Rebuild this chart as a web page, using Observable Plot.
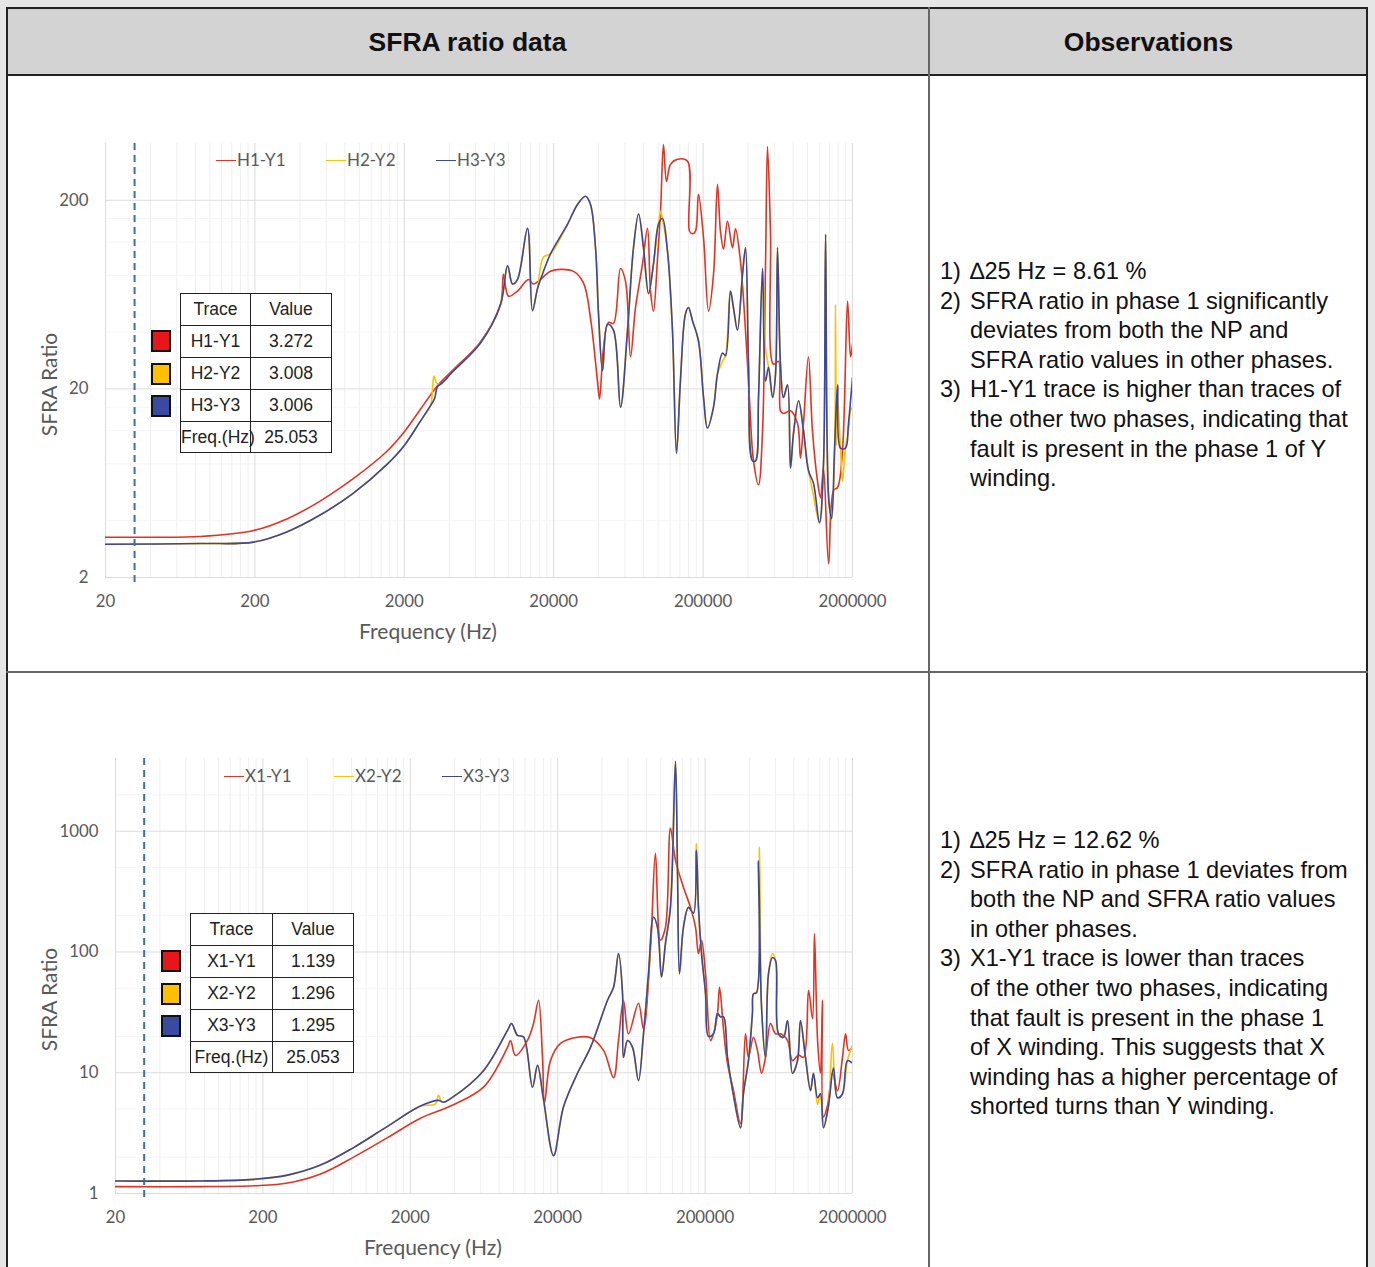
<!DOCTYPE html>
<html>
<head>
<meta charset="utf-8">
<script src="https://cdn.jsdelivr.net/npm/d3@7"></script>
<script src="https://cdn.jsdelivr.net/npm/@observablehq/plot@0.6"></script>
<style>
  html, body { margin: 0; padding: 0; }
  body { width: 1375px; height: 1267px; background: #e6e6e6; position: relative; overflow: hidden; font-family: "Liberation Sans", Arial, sans-serif; }
  .abs { position: absolute; }
  .htxt { font-weight: bold; font-size: 26.5px; color: #111; text-align: center; }
  .obs { font-size: 23.6px; line-height: 29.6px; color: #111; white-space: nowrap; }
  .obs .it { position: relative; padding-left: 30px; }
  .obs .num { position: absolute; left: 0; top: 0; }
  .legend { font-family: Lato, "Open Sans", sans-serif; font-size: 17px; color: #595959; white-space: nowrap; }
  .legend .ln { display: inline-block; width: 20px; height: 0; border-top: 1.5px solid; vertical-align: middle; margin-right: 1px; position: relative; top: -1px; }
  .axt { font-family: Lato, "Open Sans", sans-serif; font-size: 21px; color: #595959; white-space: nowrap; }
  table.inset { border-collapse: collapse; table-layout: fixed; font-family: "Liberation Sans", Arial, sans-serif; font-size: 17.5px; color: #222; background: #fff; }
  table.inset td { border: 1.5px solid #222; text-align: center; padding: 0; height: 30.9px; overflow: visible; white-space: nowrap; }
  .sw { width: 16px; height: 18px; border: 2px solid #111; }
</style>
</head>
<body>
<div id="root"></div>
<script>
// ---------------- DATA ----------------
const freqTicks = [20, 200, 2000, 20000, 200000, 2000000];
const ratioTicksTop = [2, 20, 200];
const ratioTicksBottom = [1, 10, 100, 1000];
const markerFreq = 31.3;

const seriesNamesTop = ["H1-Y1", "H2-Y2", "H3-Y3"];
const seriesNamesBottom = ["X1-Y1", "X2-Y2", "X3-Y3"];
const seriesColors = ["#e8301f", "#ffc000", "#3d4797"];
const swatchColors = ["#e8161b", "#ffc000", "#3a4aa0"];

const insetTop = { values: ["3.272", "3.008", "3.006"], freq: "25.053" };
const insetBottom = { values: ["1.139", "1.296", "1.295"], freq: "25.053" };

// [frequency Hz, SFRA ratio]
const h1y1 = [[20,3.27],[40,3.27],[86,3.3],[196,3.55],[330,4.1],[550,5.1],[914,6.7],[1544,9.4],[1976,11.7],[2565,15.6],[3336,20.8],[4265,25.3],[6472,35.5],[8812,56],[9230,81],[9960,62],[11440,66],[13560,76],[14650,72],[19040,84],[22190,86],[27160,84],[31640,73],[35260,47.5],[39260,22],[40540,17.7],[43100,33],[46560,45],[50240,44.5],[56000,87],[60500,74.5],[65340,29.6],[70500,53.7],[78560,91.7],[84900,142],[88940,66],[93100,51.7],[99100,98.6],[103800,175],[108600,395],[113800,252],[121000,310],[134900,330],[157400,322],[162200,137],[169800,133],[177800,137],[186200,215],[201400,126],[217400,51.7],[234800,81],[249600,243],[261300,137],[274000,110],[291200,155],[314600,112],[329600,141],[355700,95],[384600,40.6],[409200,17.3],[434800,8.3],[469800,6.2],[500000,12],[523600,91.7],[539600,385],[565000,137],[591600,27],[639800,28],[659000,15.3],[690000,14.8],[769000,15.3],[857000,13.1],[897000,8.6],[939800,13.1],[1014000,29.6],[1079000,12],[1166000,6.5],[1222000,5.3],[1279000,7.6],[1384000,2.37],[1494000,5.8],[1589000,6.0],[1714000,9.4],[1854000,58.5],[1940000,29.6],[2000000,34.6]];

const h2y2 = [[20,3.0],[86,3.03],[196,3.08],[330,3.5],[550,4.3],[914,5.6],[1544,8.0],[1976,9.9],[2565,13.5],[2994,16.3],[3090,20],[3160,23.4],[3290,21.5],[3500,21.2],[3800,22.5],[4074,24],[6472,35],[8812,56],[9820,90],[10600,72],[11440,76],[13360,142],[14420,52],[15580,68],[17100,100],[19040,104],[24720,149],[28860,190],[32640,210],[35260,190],[38100,112],[39900,50],[42460,25],[45820,44],[50240,41],[56000,16],[62400,41],[68400,112],[73960,169],[79800,112],[86300,64],[93100,92],[100500,149],[103800,175],[106900,160],[115600,107],[124700,41],[132700,9.1],[141000,22],[152400,50],[159600,54],[169800,46],[186200,36],[201400,18],[213800,12.4],[234800,16],[249600,24],[269800,28],[282600,30],[304800,66],[319200,54],[339600,41],[367200,81],[384600,112],[402800,27],[428600,8.3],[448800,8.3],[469800,18],[500000,87],[523600,33],[548200,26],[583400,18],[611000,24],[629600,112],[659000,27],[690000,18],[734600,21],[769000,7.6],[805400,11.6],[871000,17.3],[939800,12],[1014000,7.4],[1079000,5.8],[1202000,3.9],[1279000,8.0],[1321000,132],[1384000,5.3],[1449000,4.1],[1520000,9],[1538000,56],[1560000,10],[1589000,18],[1663000,9.7],[1714000,6.5],[1795000,9.7],[1879000,12],[1940000,15.3],[2000000,16]];

const h3y3 = [[20,3.0],[86,3.03],[196,3.08],[330,3.5],[550,4.3],[914,5.6],[1544,8.0],[1976,9.9],[2565,13.5],[2994,16.3],[3184,17.7],[3330,20.5],[3500,21.2],[3800,22.5],[4074,24],[6472,35],[8812,56],[9820,90],[10600,72],[11440,76],[13360,142],[14420,52],[15580,68],[17100,84],[19040,104],[24720,149],[28860,190],[32640,210],[35260,190],[38100,112],[39900,50],[42460,25],[45820,44],[50240,41],[56000,16],[62400,41],[68400,112],[73960,169],[79800,112],[86300,64],[93100,92],[100500,149],[106900,160],[115600,107],[124700,41],[132700,9.1],[141000,22],[152400,50],[159600,54],[169800,46],[186200,36],[201400,18],[213800,12.4],[234800,16],[249600,24],[269800,31],[282600,30],[304800,66],[319200,54],[339600,41],[367200,81],[384600,112],[402800,27],[428600,8.3],[448800,8.3],[469800,18],[500000,87],[523600,22],[548200,26],[583400,18],[611000,24],[629600,112],[659000,27],[690000,18],[734600,21],[769000,7.6],[805400,11.6],[871000,17.3],[939800,12],[1014000,7.4],[1097000,6.3],[1202000,3.9],[1279000,8.0],[1321000,132],[1384000,5.3],[1449000,4.1],[1517000,9.7],[1589000,21],[1663000,9.7],[1795000,9.7],[1879000,13.1],[2000000,23]];

const x1y1 = [[20,1.14],[75,1.14],[173,1.16],[294,1.22],[492,1.45],[824,2.0],[1400,2.9],[2345,4.2],[3750,5.3],[6276,7.6],[9128,16.2],[9572,18.5],[10340,13.9],[12470,18.5],[13710,25.6],[14820,39.8],[15770,13.4],[16290,5.6],[17870,12.6],[20900,17.5],[27240,19.7],[33380,19.5],[40920,15.3],[47860,9.1],[51700,18.5],[55880,39.8],[60440,21],[70640,37.6],[76400,23],[85320,109],[92060,655],[99540,125],[107700,160],[116400,1060],[125900,574],[142600,344],[159200,234],[172200,160],[180300,97],[189200,125],[201400,66],[217800,18.5],[228000,21],[242800,31],[250600,51],[266600,23],[283800,11.9],[311800,7.1],[347600,3.8],[375800,21],[393600,13.4],[425600,19.7],[453000,15.3],[483000,9.9],[514000,13.4],[556000,25.6],[601200,21],[650200,21],[724400,18.5],[783400,12.6],[861000,14],[931200,13.4],[1007000,48],[1072000,28],[1104000,142],[1159000,18.5],[1213000,9.9],[1250000,39.8],[1271000,4.3],[1352000,5.3],[1462000,9.9],[1581000,7.1],[1710000,13.4],[1795000,21],[1879000,15.3],[2000000,16.2]];

const x2y2 = [[20,1.27],[75,1.27],[173,1.31],[294,1.42],[492,1.72],[824,2.4],[1400,3.6],[2345,5.3],[2950,5.5],[3106,6.5],[3250,5.8],[3360,5.7],[3750,6.1],[6276,10.4],[9128,22.4],[9720,25.6],[10670,20.4],[11720,19.8],[13490,7.6],[14590,11.5],[16030,6.0],[18740,2.06],[21880,5.2],[27240,9.9],[33380,16.2],[43560,39.8],[47860,51],[51700,97],[55080,45],[55880,13.4],[59560,18.5],[64380,16.2],[70640,8.6],[76400,21],[82600,66],[89340,194],[95060,160],[101200,62],[107700,118],[116400,234],[125900,3800],[130000,450],[134000,66],[142600,160],[154200,234],[166700,209],[174600,790],[180300,234],[189200,97],[201400,45],[211000,20],[228000,21],[242800,31],[254200,29],[266600,29],[283800,13.4],[307000,7.2],[347600,3.5],[364000,6.7],[393600,12.6],[418800,31],[425600,45],[446600,46],[467600,740],[483000,35],[514000,13.4],[538400,66],[572800,97],[601200,85],[629600,21],[680800,19.7],[724400,27],[783400,9.9],[847200,12.6],[887200,27],[959400,13.4],[1038000,7.1],[1087000,9.9],[1159000,5.5],[1213000,6.7],[1271000,3.5],[1374000,5.3],[1462000,17.5],[1581000,6.2],[1710000,6.7],[1849000,12.6],[2000000,17]];

const x3y3 = [[20,1.27],[75,1.27],[173,1.31],[294,1.42],[492,1.72],[824,2.4],[1400,3.6],[2345,5.3],[3106,5.9],[3360,5.7],[3750,6.1],[6276,10.4],[9128,22.4],[9720,25.6],[10670,20.4],[11720,19.8],[13490,7.6],[14590,11.5],[16030,6.0],[18740,2.06],[21880,5.2],[27240,9.9],[33380,16.2],[43560,39.8],[47860,51],[51700,97],[55080,45],[55880,13.4],[59560,18.5],[64380,16.2],[70640,8.6],[76400,21],[82600,66],[89340,194],[95060,160],[101200,62],[107700,118],[116400,234],[125900,3800],[130000,450],[134000,66],[142600,160],[154200,234],[166700,209],[174600,695],[180300,234],[189200,97],[201400,45],[211000,20],[228000,21],[242800,31],[254200,29],[266600,29],[283800,13.4],[307000,7.2],[347600,3.5],[364000,6.7],[393600,12.6],[418800,31],[425600,45],[446600,46],[460200,570],[483000,35],[514000,13.4],[538400,66],[572800,90],[601200,85],[629600,21],[680800,19.7],[724400,27],[783400,9.9],[847200,12.6],[887200,27],[959400,13.4],[1038000,7.1],[1087000,9.9],[1159000,6.2],[1213000,6.7],[1271000,3.5],[1374000,5.3],[1486000,11],[1581000,6.2],[1710000,6.7],[1849000,12.6],[2000000,12]];

const obsTop = [
  ["1)", ["\u220625 Hz = 8.61 %"]],
  ["2)", ["SFRA ratio in phase 1 significantly", "deviates from both the NP and", "SFRA ratio values in other phases."]],
  ["3)", ["H1-Y1 trace is higher than traces of", "the other two phases, indicating that", "fault is present in the phase 1 of Y", "winding."]]
];
const obsBottom = [
  ["1)", ["\u220625 Hz = 12.62 %"]],
  ["2)", ["SFRA ratio in phase 1 deviates from", "both the NP and SFRA ratio values", "in other phases."]],
  ["3)", ["X1-Y1 trace is lower than traces", "of the other two phases, indicating", "that fault is present in the phase 1", "of X winding. This suggests that X", "winding has a higher percentage of", "shorted turns than Y winding."]]
];

// ---------------- LAYOUT ----------------
const root = document.getElementById("root");
function box(css, cls, text) {
  const d = document.createElement("div");
  d.className = "abs" + (cls ? " " + cls : "");
  d.style.cssText = css;
  if (text != null) d.textContent = text;
  root.appendChild(d);
  return d;
}

box("left:6px;top:7px;width:1362px;height:1280px;background:#fff;");
box("left:6px;top:7px;width:1362px;height:68px;background:#d3d3d3;");
box("left:6px;top:8px;width:923px;height:68px;line-height:68px;", "htxt", "SFRA ratio data");
box("left:929px;top:8px;width:439px;height:68px;line-height:68px;", "htxt", "Observations");

function minorTicks(base, decades, ks) {
  const out = [];
  for (let n = 0; n < decades; n++) for (const k of ks) out.push(base * k * Math.pow(10, n));
  return out;
}

function makeChart(cfg) {
  const lines = cfg.series.map((s, i) => Plot.line(s, {
    x: d => d[0], y: d => d[1], stroke: seriesColors[i], strokeWidth: 1.6,
    curve: "catmull-rom", clip: true
  }));
  const chart = Plot.plot({
    width: 920, height: cfg.height,
    marginLeft: cfg.ml, marginRight: 68, marginTop: cfg.mt, marginBottom: cfg.mb,
    style: { background: "transparent", fontFamily: "Lato, 'Open Sans', sans-serif", fontSize: "16.8px", color: "#595959" },
    x: { type: "log", domain: [20, 2000000], ticks: freqTicks, tickFormat: d => String(d), tickSize: 0, tickPadding: 18, label: null },
    y: { type: "log", domain: cfg.yDomain, ticks: cfg.yTicks, tickFormat: d => String(d), tickSize: 0, tickPadding: 17, label: null },
    marks: [
      Plot.ruleX(minorTicks(20, 5, [2,3,4,5,6,7,8,9]), { stroke: "#efefef", strokeWidth: 1 }),
      Plot.ruleY(cfg.yMinor, { stroke: "#f5f5f5", strokeWidth: 1 }),
      Plot.ruleX(freqTicks, { stroke: "#dcdcdc", strokeWidth: 1 }),
      Plot.ruleY(cfg.yTicks, { stroke: "#dcdcdc", strokeWidth: 1 }),
      lines[0], lines[1], lines[2],
      Plot.ruleX([markerFreq], { y1: cfg.yDomain[1], y2: cfg.ruleBottom, stroke: "#3e6ea8", strokeWidth: 2, strokeDasharray: "7,5" })
    ]
  });
  const wrap = box(`left:0px;top:${cfg.top}px;width:920px;height:${cfg.height}px;`);
  wrap.appendChild(chart);
  return chart;
}

makeChart({ top: 80, height: 580, ml: 105, mt: 63, mb: 83, yDomain: [2, 400], yTicks: ratioTicksTop,
  yMinor: minorTicks(2, 3, [2,4,6,8]).filter(v => v < 400), ruleBottom: 1.8,
  series: [h1y1, h2y2, h3y3] });
makeChart({ top: 680, height: 587, ml: 115, mt: 78, mb: 74, yDomain: [1, 4000], yTicks: ratioTicksBottom,
  yMinor: minorTicks(1, 4, [2,5]).filter(v => v < 4000), ruleBottom: 0.87,
  series: [x1y1, x2y2, x3y3] });

function legend(names, top, lefts) {
  names.forEach((n, i) => {
    const d = box(`left:${lefts[i]}px;top:${top}px;`, "legend");
    d.innerHTML = `<span class="ln" style="border-color:${seriesColors[i]}"></span>${n}`;
  });
}
legend(seriesNamesTop, 149, [216, 326, 436]);
legend(seriesNamesBottom, 765, [224, 334, 442]);

function axisTitles(xCenter, xTop, yCenter) {
  box(`left:${xCenter - 100}px;top:${xTop}px;width:200px;text-align:center;`, "axt", "Frequency (Hz)");
  box(`left:${48 - 100}px;top:${yCenter - 13}px;width:200px;text-align:center;transform:rotate(-90deg);`, "axt", "SFRA Ratio");
}
axisTitles(428, 618, 385);
axisTitles(433, 1234, 1000);

function inset(names, data, left, top, c1, c2, swLeft) {
  const t = document.createElement("table");
  t.className = "inset abs";
  t.style.left = left + "px"; t.style.top = top + "px"; t.style.width = (c1 + c2) + "px";
  let html = `<colgroup><col style="width:${c1}px"><col style="width:${c2}px"></colgroup><tr><td>Trace</td><td>Value</td></tr>`;
  names.forEach((n, i) => { html += `<tr><td>${n}</td><td>${data.values[i]}</td></tr>`; });
  html += `<tr><td>Freq.(Hz)</td><td>${data.freq}</td></tr>`;
  t.innerHTML = html;
  root.appendChild(t);
  names.forEach((n, i) => {
    box(`left:${swLeft}px;top:${top + 32.4 * (i + 1) + 5}px;background:${swatchColors[i]};`, "sw");
  });
}
inset(seriesNamesTop, insetTop, 180, 293, 70, 81, 151);
inset(seriesNamesBottom, insetBottom, 190, 913, 82, 81, 161);

function observations(items, top) {
  const d = box(`left:940px;top:${top}px;`, "obs");
  d.innerHTML = items.map(([n, ls]) => `<div class="it"><span class="num">${n}</span>${ls.join("<br>")}</div>`).join("");
}
observations(obsTop, 257);
observations(obsBottom, 826);

box("left:6px;top:7px;width:1362px;height:2px;background:#222;");
box("left:6px;top:7px;width:2px;height:1270px;background:#222;");
box("left:1366px;top:7px;width:2px;height:1270px;background:#222;");
box("left:6px;top:74px;width:1362px;height:2px;background:#222;");
box("left:928px;top:7px;width:2px;height:1270px;background:#666;");
box("left:6px;top:671px;width:1362px;height:2px;background:#666;");
</script>
</body>
</html>
